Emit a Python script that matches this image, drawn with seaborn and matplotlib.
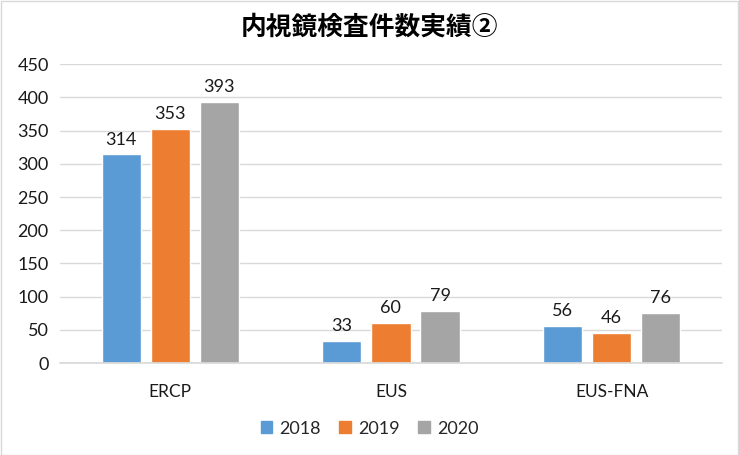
import matplotlib
matplotlib.use("Agg")
import matplotlib.pyplot as plt
import seaborn as sns
import pandas as pd

categories = ["ERCP", "EUS", "EUS-FNA"]
years = ["2018", "2019", "2020"]
v2018 = [314, 33, 56]
v2019 = [353, 60, 46]
v2020 = [393, 79, 76]
title = "内視鏡検査件数実績②"
yticks = [0, 50, 100, 150, 200, 250, 300, 350, 400, 450]

rows = []
for y, vals in zip(years, [v2018, v2019, v2020]):
    for c, v in zip(categories, vals):
        rows.append({"cat": c, "year": y, "value": v})
df = pd.DataFrame(rows)

sns.set_theme(style="white")
plt.rcParams['font.family'] = ['Lato', 'Noto Sans CJK JP', 'DejaVu Sans']

fig = plt.figure(figsize=(7.39, 4.55), dpi=100)
ax = fig.add_axes([0.081, 0.202, 0.896, 0.657])
palette = ["#5B9BD5", "#ED7D31", "#A5A5A5"]
sns.barplot(data=df, x="cat", y="value", hue="year", palette=palette,
            width=0.667, gap=0.2, ax=ax, legend=True, saturation=1)

ax.set_ylim(0, 450)
ax.set_yticks(yticks)
ax.set_yticklabels([str(t) for t in yticks], fontsize=13, color="#1a1a1a")
ax.tick_params(axis="x", labelsize=12.5, colors="#1a1a1a", length=0, pad=15)
ax.tick_params(axis="y", length=0, pad=8)
ax.yaxis.grid(True, color="#D9D9D9", linewidth=1)
ax.set_axisbelow(True)
for s in ["top", "right", "left"]:
    ax.spines[s].set_visible(False)
ax.spines["bottom"].set_color("#D9D9D9")
ax.set_xlabel("")
ax.set_ylabel("")

for cont in ax.containers:
    ax.bar_label(cont, fontsize=13, padding=5, color="#1a1a1a")

ax.legend_.remove()
handles = [plt.Rectangle((0, 0), 1, 1, color=c) for c in palette]
fig.legend(handles, years, loc="center", bbox_to_anchor=(0.5, 0.058), ncol=3,
           frameon=False, fontsize=13, handlelength=0.65, handleheight=0.65,
           columnspacing=1.0, handletextpad=0.4)

fig.text(0.5, 0.94, title, ha="center", va="center", fontsize=18.5,
         fontweight="bold", color="black", family=["Noto Sans CJK JP", "DejaVu Sans"])

border = plt.Rectangle((0.001, 0.001), 0.997, 0.997, transform=fig.transFigure,
                       fill=False, edgecolor="#D9D9D9", linewidth=1)
fig.patches.append(border)

fig.savefig("out.png", dpi=100)
